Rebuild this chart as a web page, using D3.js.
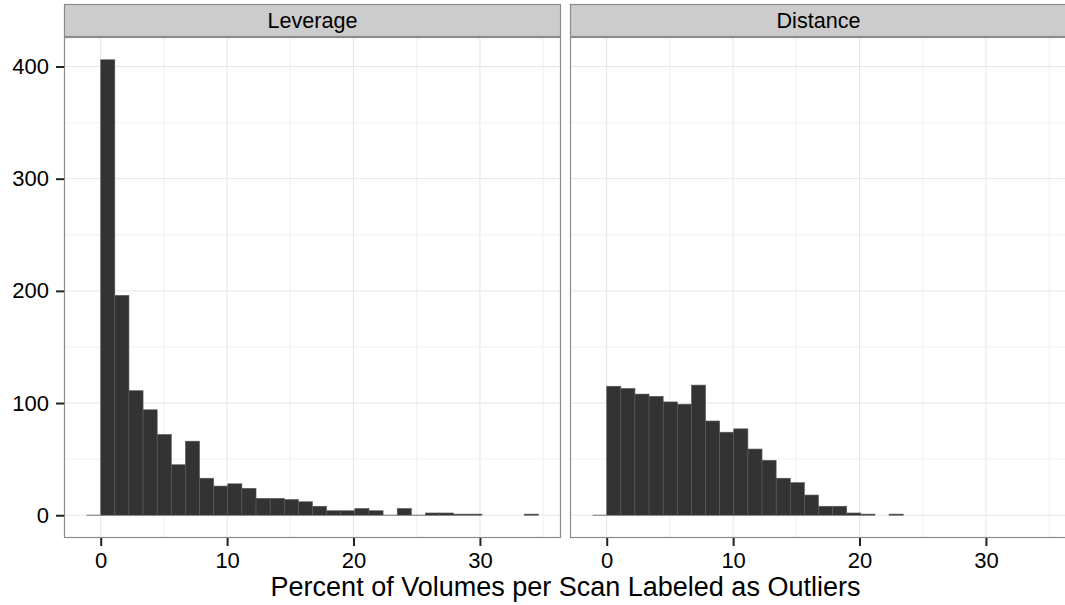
<!DOCTYPE html>
<html>
<head>
<meta charset="utf-8">
<script src="https://cdn.jsdelivr.net/npm/d3@7"></script>
<style>
  html, body { margin: 0; padding: 0; background: #fff; }
  svg { display: block; font-family: "Liberation Sans", Arial, Helvetica, sans-serif; }
</style>
</head>
<body>
<svg id="chart" width="1065" height="605"></svg>
<script>
// Histogram bins: fixed width, first bin's left edge
const binWidth = 1.117;
const binStart = -1.117;

// Facet names
const facets = ["Leverage", "Distance"];

// Counts per bin (bin i spans binStart + i*binWidth .. + binWidth); null = no bar drawn
const leverageCounts = [0, 406, 196, 111, 94, 72, 45, 66, 33, 26, 28, 24, 15, 15, 14, 12,
                        8, 4, 4, 6, 4, 0, 6, 0, 2, 2, 1, 1, null, null, null, 1];
const distanceCounts = [0, 115, 113, 108, 106, 101, 99, 116, 84, 74, 77, 59, 49, 33, 29, 18,
                        8, 8, 2, 1, null, 1, null, null, null, null, null, null, null, null, null, null];

// Tick labels
const xTicks = [0, 10, 20, 30];
const xMinor = [5, 15, 25, 35];
const yTicks = [0, 100, 200, 300, 400];
const yMinor = [50, 150, 250, 350];

const xTitle = "Percent of Volumes per Scan Labeled as Outliers";

// Layout
const panelW = 497, panelGap = 9;
const panelLeft = 64, panelTop = 37, panelBottom = 538;
const stripTop = 4;

const svg = d3.select("#chart");

const seriesByFacet = { Leverage: leverageCounts, Distance: distanceCounts };

// Shared scales (ggplot-style 5% expansion)
const nBins = leverageCounts.length;
const xMinData = binStart, xMaxData = binStart + nBins * binWidth;
const xPad = (xMaxData - xMinData) * 0.05;
const yMaxData = d3.max([...leverageCounts, ...distanceCounts]);
const yPad = yMaxData * 0.05;

const y = d3.scaleLinear()
  .domain([-yPad, yMaxData + yPad])
  .range([panelBottom, panelTop]);

facets.forEach((name, fi) => {
  const x0 = panelLeft + fi * (panelW + panelGap);
  const x = d3.scaleLinear()
    .domain([xMinData - xPad, xMaxData + xPad])
    .range([x0, x0 + panelW]);

  const g = svg.append("g");

  // panel background
  g.append("rect")
    .attr("x", x0).attr("y", panelTop)
    .attr("width", panelW).attr("height", panelBottom - panelTop)
    .attr("fill", "#fff");

  // minor grid
  g.selectAll(".xminor").data(xMinor).enter().append("line")
    .attr("x1", d => x(d)).attr("x2", d => x(d))
    .attr("y1", panelTop).attr("y2", panelBottom)
    .attr("stroke", "#f4f4f4").attr("stroke-width", 1.4);
  g.selectAll(".yminor").data(yMinor).enter().append("line")
    .attr("x1", x0).attr("x2", x0 + panelW)
    .attr("y1", d => y(d)).attr("y2", d => y(d))
    .attr("stroke", "#f4f4f4").attr("stroke-width", 1.4);

  // major grid
  g.selectAll(".xmajor").data(xTicks).enter().append("line")
    .attr("x1", d => x(d)).attr("x2", d => x(d))
    .attr("y1", panelTop).attr("y2", panelBottom)
    .attr("stroke", "#e6e6e6").attr("stroke-width", 1);
  g.selectAll(".ymajor").data(yTicks).enter().append("line")
    .attr("x1", x0).attr("x2", x0 + panelW)
    .attr("y1", d => y(d)).attr("y2", d => y(d))
    .attr("stroke", "#e6e6e6").attr("stroke-width", 1);

  // histogram bars
  const bins = seriesByFacet[name]
    .map((count, i) => ({ count, lo: binStart + i * binWidth, hi: binStart + (i + 1) * binWidth }))
    .filter(b => b.count !== null);

  g.selectAll(".bar").data(bins.filter(b => b.count > 0)).enter().append("rect")
    .attr("x", b => x(b.lo))
    .attr("width", b => x(b.hi) - x(b.lo))
    .attr("y", b => y(b.count))
    .attr("height", b => y(0) - y(b.count))
    .attr("fill", "#333333")
    .attr("stroke", "#5a5a5a")
    .attr("stroke-width", 0.6);

  // empty bins show only their outline along the baseline
  g.selectAll(".empty").data(bins.filter(b => b.count === 0)).enter().append("line")
    .attr("x1", b => x(b.lo)).attr("x2", b => x(b.hi))
    .attr("y1", y(0)).attr("y2", y(0))
    .attr("stroke", "#777").attr("stroke-width", 1);

  // panel border
  g.append("rect")
    .attr("x", x0 + 0.5).attr("y", panelTop + 0.5)
    .attr("width", panelW - 1).attr("height", panelBottom - panelTop - 1)
    .attr("fill", "none").attr("stroke", "#8c8c8c").attr("stroke-width", 1.2);

  // strip
  g.append("rect")
    .attr("x", x0 + 0.5).attr("y", stripTop + 0.5)
    .attr("width", panelW - 1).attr("height", panelTop - stripTop - 1)
    .attr("fill", "#cccccc").attr("stroke", "#8c8c8c").attr("stroke-width", 1.2);
  g.append("text")
    .attr("x", x0 + panelW / 2).attr("y", (stripTop + panelTop) / 2)
    .attr("dy", "0.36em")
    .attr("text-anchor", "middle")
    .attr("font-size", 21.6)
    .attr("fill", "#000")
    .text(name);

  // x axis
  const xAxis = d3.axisBottom(x).tickValues(xTicks).tickSize(8).tickPadding(6)
    .tickFormat(d3.format("d"));
  const ax = svg.append("g")
    .attr("transform", `translate(0,${panelBottom})`)
    .call(xAxis);
  ax.select(".domain").remove();
  ax.selectAll(".tick line").attr("stroke", "#222").attr("stroke-width", 2);
  ax.selectAll(".tick text").attr("font-size", 22).attr("fill", "#000")
    .attr("font-family", "Liberation Sans, Arial, sans-serif");

  // y axis on the first panel only
  if (fi === 0) {
    const yAxis = d3.axisLeft(y).tickValues(yTicks).tickSize(8).tickPadding(7)
      .tickFormat(d3.format("d"));
    const ay = svg.append("g")
      .attr("transform", `translate(${x0},0)`)
      .call(yAxis);
    ay.select(".domain").remove();
    ay.selectAll(".tick line").attr("stroke", "#222").attr("stroke-width", 2);
    ay.selectAll(".tick text").attr("font-size", 22).attr("fill", "#000")
      .attr("font-family", "Liberation Sans, Arial, sans-serif");
  }
});

// x axis title
svg.append("text")
  .attr("x", panelLeft + (2 * panelW + panelGap) / 2)
  .attr("y", 596)
  .attr("text-anchor", "middle")
  .attr("font-size", 27)
  .attr("fill", "#000")
  .text(xTitle);
</script>
</body>
</html>
